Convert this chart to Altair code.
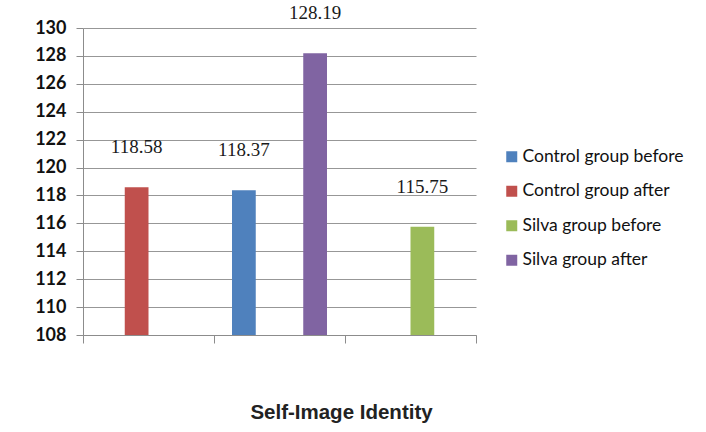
import altair as alt
import pandas as pd

series = ["Control group before", "Control group after", "Silva group before", "Silva group after"]
colors = ["#4F81BD", "#C0504D", "#9BBB59", "#8064A2"]

point_category = ["G1", "G2", "G2", "G3"]
point_series = ["Control group after", "Control group before", "Silva group after", "Silva group before"]
point_value = [118.58, 118.37, 128.19, 115.75]

categories = ["G1", "G2", "G3"]
y_ticks = list(range(108, 131, 2))
y_base = 108

df = pd.DataFrame({"category": point_category, "series": point_series, "value": point_value})

grid_gray = "#8c8c8c"

x_enc = alt.X(
    "category:N",
    sort=categories,
    scale=alt.Scale(domain=categories, paddingInner=0, paddingOuter=0),
    axis=alt.Axis(
        labels=False,
        tickBand="extent",
        tickSize=8,
        tickColor=grid_gray,
        domainColor=grid_gray,
        grid=False,
        title="Self-Image Identity",
        titleFont="Liberation Sans",
        titleFontWeight="bold",
        titleFontSize=20.5,
        titleColor="#222222",
        titleX=258,
        titleY=77,
        titleAlign="center",
        titleBaseline="middle",
    ),
)
xo_enc = alt.XOffset(
    "series:N",
    sort=series,
    scale=alt.Scale(domain=series, paddingInner=0, paddingOuter=0.758),
)
y_enc = alt.Y(
    "value:Q",
    scale=alt.Scale(domain=[108, 130], zero=False, nice=False, clamp=True),
    axis=alt.Axis(
        values=y_ticks,
        title=None,
        labelFont="Lato",
        labelFontWeight="bold",
        labelFontSize=18,
        labelColor="#111111",
        labelPadding=10,
        tickSize=7,
        tickColor=grid_gray,
        domainColor=grid_gray,
        grid=True,
        gridColor=grid_gray,
        gridOpacity=0.9,
    ),
)

base = alt.Chart(df).encode(x=x_enc, xOffset=xo_enc, y=y_enc)

bars = base.mark_bar().encode(
    y2=alt.datum(y_base),
    color=alt.Color(
        "series:N",
        sort=series,
        scale=alt.Scale(domain=series, range=colors),
        legend=alt.Legend(
            title=None,
            orient="none",
            legendX=420,
            legendY=120,
            symbolType="square",
            symbolSize=121,
            symbolStrokeWidth=0,
            labelFont="Lato",
            labelFontSize=17.5,
            labelColor="#111111",
            labelOffset=2,
            labelLimit=300,
            rowPadding=15.5,
            padding=0,
        ),
    ),
)

labels = base.mark_text(
    font="Liberation Serif", fontSize=19, color="#1a1a1a", dy=-40
).encode(
    text=alt.Text("value:Q", format=".2f"),
)

chart = (
    alt.layer(bars, labels)
    .properties(
        width=393,
        height=307,
        autosize=alt.AutoSizeParams(type="none"),
        padding={"left": 83, "top": 28, "right": 230, "bottom": 97},
        background="white",
    )
    .configure_view(stroke=None)
)

chart.save("out.html", embed_options={"renderer": "svg", "actions": False})
